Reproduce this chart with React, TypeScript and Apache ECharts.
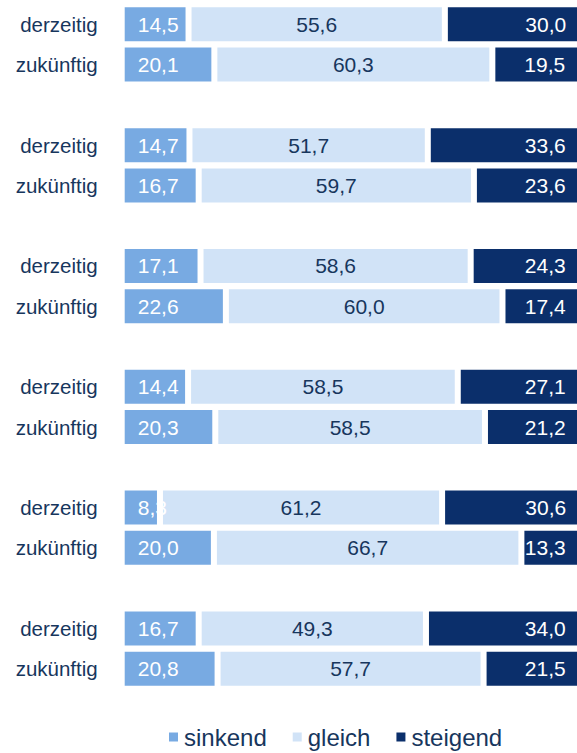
import React, { useEffect, useRef } from "react";
import * as echarts from "echarts";

const categories = [
  "derzeitig", "zukünftig", "",
  "derzeitig", "zukünftig", "",
  "derzeitig", "zukünftig", "",
  "derzeitig", "zukünftig", "",
  "derzeitig", "zukünftig", "",
  "derzeitig", "zukünftig",
];
const sinkend = [14.5, 20.1, null, 14.7, 16.7, null, 17.1, 22.6, null, 14.4, 20.3, null, 8.3, 20.0, null, 16.7, 20.8];
const gleich = [55.6, 60.3, null, 51.7, 59.7, null, 58.6, 60.0, null, 58.5, 58.5, null, 61.2, 66.7, null, 49.3, 57.7];
const steigend = [30.0, 19.5, null, 33.6, 23.6, null, 24.3, 17.4, null, 27.1, 21.2, null, 30.6, 13.3, null, 34.0, 21.5];
const seriesNames = ["sinkend", "gleich", "steigend"];

const NAVY = "#17365d";
const FONT = "Liberation Sans, Arial, sans-serif";
const fmt = (p: any) => (p.value == null ? "" : Number(p.value).toFixed(1).replace(".", ","));

export default function App() {
  const ref = useRef<HTMLDivElement>(null);
  useEffect(() => {
    if (!ref.current) return;
    const chart = echarts.init(ref.current, undefined, { renderer: "svg" });
    const base = {
      type: "bar",
      stack: "total",
      barWidth: 40,
      itemStyle: { borderColor: "#ffffff", borderWidth: 3 },
    };
    chart.setOption({
      animation: false,
      backgroundColor: "#ffffff",
      grid: { left: 121.7, top: 4.2, width: 461, height: 684.6, containLabel: false },
      xAxis: { type: "value", min: 0, max: 100, show: false },
      yAxis: {
        type: "category",
        inverse: true,
        data: categories,
        axisLine: { show: false },
        axisTick: { show: false },
        axisLabel: { color: NAVY, fontSize: 20.5, fontFamily: FONT, margin: 24 },
      },
      legend: {
        data: seriesNames,
        left: 169,
        top: 725,
        padding: 0,
        itemWidth: 9,
        itemHeight: 9,
        itemGap: 26,
        icon: "rect",
        itemStyle: { borderWidth: 0 },
        textStyle: { color: NAVY, fontSize: 24, fontFamily: FONT, lineHeight: 24, padding: [0, 0, 0, 1] },
      },
      series: [
        {
          ...base,
          name: seriesNames[0],
          data: sinkend,
          itemStyle: { ...base.itemStyle, color: "#78aae2" },
          label: { show: true, position: "insideLeft", distance: 16, color: "#ffffff", fontSize: 21, fontFamily: FONT, formatter: fmt },
        },
        {
          ...base,
          name: seriesNames[1],
          data: gleich,
          itemStyle: { ...base.itemStyle, color: "#d1e3f7" },
          label: { show: true, position: "inside", color: NAVY, fontSize: 21, fontFamily: FONT, formatter: fmt },
        },
        {
          ...base,
          name: seriesNames[2],
          data: steigend,
          itemStyle: { ...base.itemStyle, color: "#0b2f6b" },
          label: { show: true, position: "insideRight", distance: 17, color: "#ffffff", fontSize: 21, fontFamily: FONT, formatter: fmt },
        },
      ],
    });
    return () => chart.dispose();
  }, []);
  return (
    <div style={{ position: "absolute", left: 0, top: 0, width: 577, height: 753, overflow: "hidden", background: "#fff" }}>
      <div ref={ref} style={{ width: 620, height: 753 }} />
    </div>
  );
}
